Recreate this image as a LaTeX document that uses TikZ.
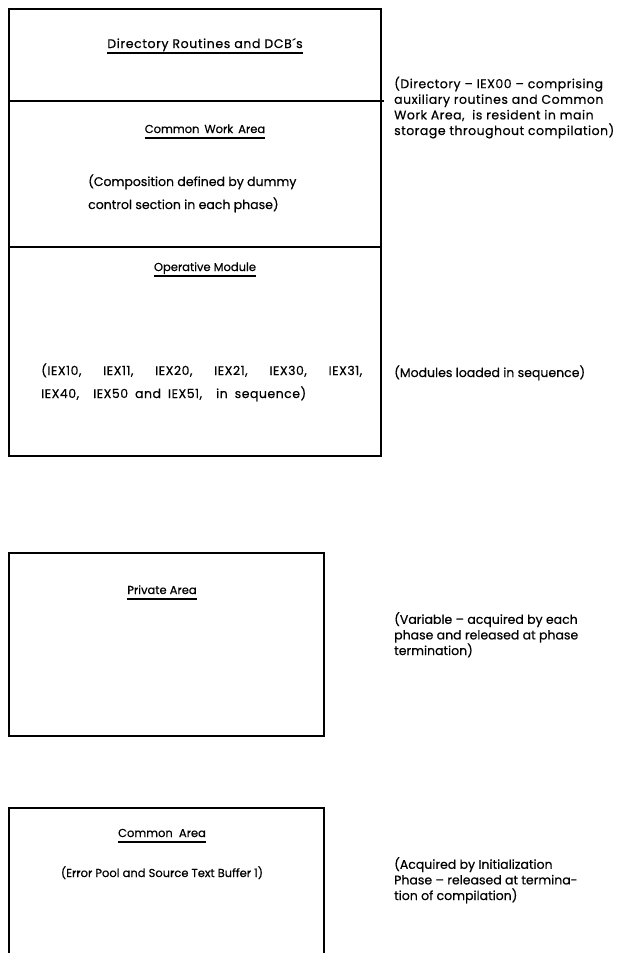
\documentclass[tikz,border=0pt]{standalone}
\usepackage{fontspec}
\setmainfont{Poppins}[FakeBold=0.5]
\newfontfamily\widerfont{Poppins}[LetterSpace=5, FakeBold=0.5]
\newfontfamily\wideishfont{Poppins}[LetterSpace=4, FakeBold=0.5]
\begin{document}
\begin{tikzpicture}[x=1pt,y=-1pt,
  frame/.style={line width=1.6pt, line cap=rect},
  title/.style={inner sep=0pt, anchor=base, font=\fontsize{11.5}{14}\selectfont},
  body/.style={inner sep=0pt, anchor=base west, align=left, font=\fontsize{12.5}{23}\selectfont},
  note/.style={inner sep=0pt, anchor=base west, align=left, font=\fontsize{12.5}{15.6}\selectfont},
  uline/.style={line width=1.1pt}]
\useasboundingbox (0,0) rectangle (616,953);

% resident part: directory, common work area, operative module
\draw[frame] (9,9) rectangle (381,456);
\coordinate (d1l) at (9,101);
\coordinate (d1r) at (383,101);
\coordinate (d2l) at (9,247);
\coordinate (d2r) at (381,247);
\draw[frame] (d1l) -- (d1r);
\draw[frame] (d2l) -- (d2r);

% multi-line nodes are placed by the baseline of their last line
\node[title, font=\widerfont\fontsize{12.5}{14}\selectfont] (dir) at (205,48) {Directory Routines and DCB´s};
\draw[uline] ([yshift=-5pt]dir.base west) -- ([yshift=-5pt]dir.base east);

\node[title] (cwa) at (205,133) {Common\hspace{5pt}Work\hspace{5pt}Area};
\draw[uline] ([yshift=-5pt]cwa.base west) -- ([yshift=-5pt]cwa.base east);

\node[body] (comp) at (88,209) {(Composition defined by dummy\\control section in each phase)};

\node[title] (opm) at (205,271) {Operative Module};
\draw[uline] ([yshift=-5pt]opm.base west) -- ([yshift=-5pt]opm.base east);

\node[body, font=\wideishfont\fontsize{12.5}{23}\selectfont] (mods) at (41,398)
  {\makebox[321pt][s]{(IEX10,\ \ IEX11,\ \ IEX20,\ \ IEX21,\ \ IEX30,\ \ IEX31,}\\
   \makebox[265pt][s]{IEX40,\ \ IEX50 and IEX51,\ \ in sequence)}};

\node[note, font=\wideishfont\fontsize{12.5}{15.6}\selectfont] (n1) at (394,135)
  {(Directory – IEX00 – comprising\\auxiliary routines and Common\\Work Area,\ \ is resident in main\\storage throughout compilation)};
\node[note] (n2) at (394,377) {(Modules loaded in sequence)};

% private area
\draw[frame] (9,553) rectangle (324,736);
\node[title] (pa) at (162,594) {Private Area};
\draw[uline] ([yshift=-5pt]pa.base west) -- ([yshift=-5pt]pa.base east);
\node[note] (n3) at (394,655) {(Variable – acquired by each\\phase and released at phase\\termination)};

% common area
\draw[frame] (9,953) -- (9,808) -- (324,808) -- (324,953);
\node[title] (ca) at (162,837) {Common\ \ Area};
\draw[uline] ([yshift=-5pt]ca.base west) -- ([yshift=-5pt]ca.base east);
\node[title] (ep) at (162,877) {(Error Pool and Source Text Buffer 1)};
\node[note] (n4) at (394,900) {(Acquired by Initialization\\Phase – released at termina-\\tion of compilation)};
\end{tikzpicture}
\end{document}
